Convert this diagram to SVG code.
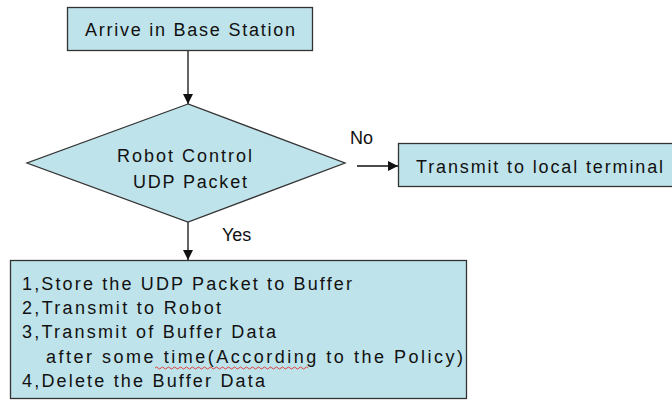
<svg xmlns="http://www.w3.org/2000/svg" width="672" height="404" viewBox="0 0 672 404">
  <style>
    .box { fill: #bfe3ea; stroke: #333; stroke-width: 1.3; }
    .txt { font-family: "Liberation Sans", Arial, sans-serif; font-size: 18px; fill: #111; }
    .edge { stroke: #111; stroke-width: 1.3; fill: none; marker-end: url(#arrow); }
  </style>
  <defs>
    <marker id="arrow" viewBox="0 0 10 10" refX="10" refY="5" markerWidth="10" markerHeight="10" markerUnits="userSpaceOnUse" orient="auto">
      <path d="M0,0 L10,5 L0,10 z" fill="#111"/>
    </marker>
  </defs>

  <rect width="672" height="404" fill="#fff"/>

  <g id="connectors">
    <line class="edge" x1="188" y1="51" x2="188" y2="104"/>
    <line class="edge" x1="357" y1="166" x2="398" y2="166"/>
    <line class="edge" x1="188" y1="222" x2="188" y2="260"/>
    <text class="txt" x="350" y="144">No</text>
    <text class="txt" x="222" y="241">Yes</text>
  </g>

  <g id="arrive">
    <rect class="box" x="67.5" y="7.5" width="245" height="43"/>
    <text class="txt" x="85" y="36" textLength="210" lengthAdjust="spacing">Arrive in Base Station</text>
  </g>

  <g id="decision">
    <polygon class="box" points="188,104 27,163 188,222 345,163"/>
    <text class="txt" x="117" y="162" textLength="135" lengthAdjust="spacing">Robot Control</text>
    <text class="txt" x="133" y="188" textLength="114" lengthAdjust="spacing">UDP Packet</text>
  </g>

  <g id="local-terminal">
    <rect class="box" x="398.5" y="143.5" width="280" height="43"/>
    <text class="txt" x="416" y="173" textLength="247" lengthAdjust="spacing">Transmit to local terminal</text>
  </g>

  <g id="buffer-steps">
    <rect class="box" x="10.5" y="260.5" width="456" height="138"/>
    <text class="txt" x="22" y="290" textLength="330" lengthAdjust="spacing">1,Store the UDP Packet to Buffer</text>
    <text class="txt" x="22" y="314" textLength="199" lengthAdjust="spacing">2,Transmit to Robot</text>
    <text class="txt" x="22" y="338" textLength="254" lengthAdjust="spacing">3,Transmit of Buffer Data</text>
    <text class="txt" x="46" y="363" textLength="417" lengthAdjust="spacing">after some time(According to the Policy)</text>
    <!-- spell-check squiggle under "time(According" -->
    <path d="M155,368 q1.5,-2 3,0 t3,0 t3,0 t3,0 t3,0 t3,0 t3,0 t3,0 t3,0 t3,0 t3,0 t3,0 t3,0 t3,0 t3,0 t3,0 t3,0 t3,0 t3,0 t3,0 t3,0 t3,0 t3,0 t3,0 t3,0 t3,0 t3,0 t3,0 t3,0 t3,0 t3,0 t3,0 t3,0 t3,0 t3,0 t3,0 t3,0 t3,0 t3,0 t3,0 t3,0 t3,0 t3,0 t3,0 t3,0 t3,0 t3,0 t3,0 t3,0 t3,0 t3,0" fill="none" stroke="#e03030" stroke-width="0.9"/>
    <text class="txt" x="22" y="387" textLength="243" lengthAdjust="spacing">4,Delete the Buffer Data</text>
  </g>
</svg>
